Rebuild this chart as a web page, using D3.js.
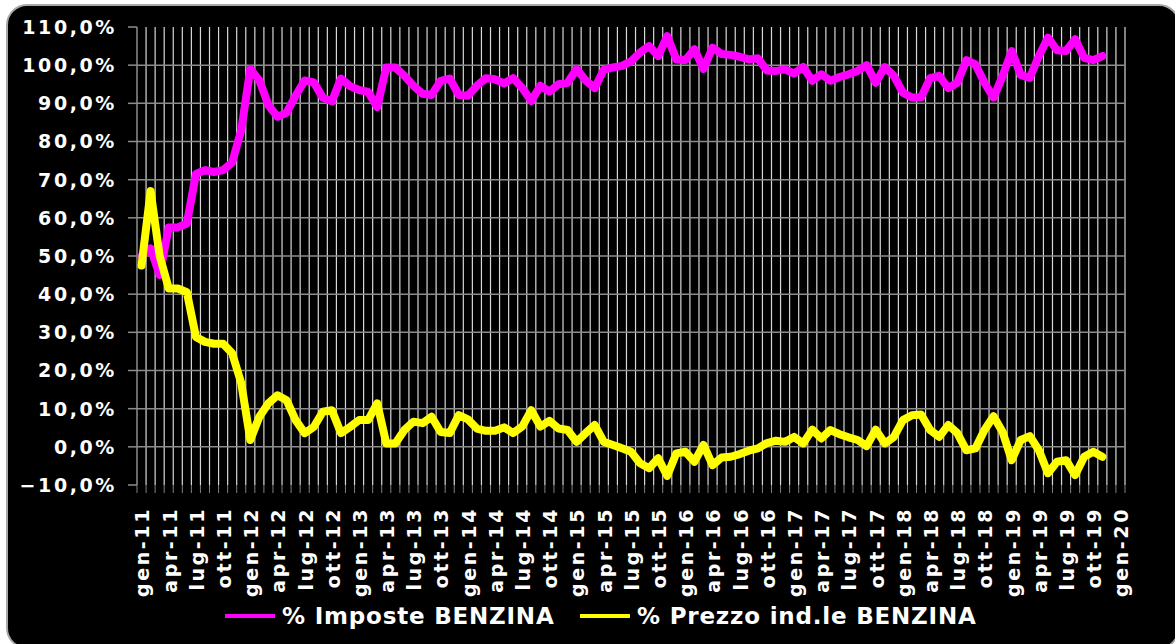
<!DOCTYPE html>
<html>
<head>
<meta charset="utf-8">
<script src="https://cdn.jsdelivr.net/npm/d3@7"></script>
<style>
  html, body { margin: 0; padding: 0; background: #fff; }
  svg { display: block; }
  text { font-family: "DejaVu Sans", Verdana, sans-serif; font-weight: bold; fill: #fff; }
</style>
</head>
<body>
<div id="chart"></div>
<script>
// categories: one per month, gen-11 .. gen-20
const monthNames = ['gen', 'feb', 'mar', 'apr', 'mag', 'giu', 'lug', 'ago', 'set', 'ott', 'nov', 'dic'];
const years = [11, 12, 13, 14, 15, 16, 17, 18, 19, 20];

// % Imposte BENZINA, gen-11 .. nov-19
const imposte = [
  50, 52, 45, 57.5, 57.5, 58.5, 71.5, 72.5, 72, 72.5, 74.5, 83,
  99, 96, 89.5, 86.5, 87.5, 92, 96, 95.5, 91.5, 90.5, 96.5, 94.5,
  93.5, 93, 89, 99.4, 99.4, 97.2, 94.6, 92.5, 92.2, 95.9, 96.5, 92.2,
  92, 94.6, 96.6, 96.3, 95.2, 96.6, 94, 90.6, 94.6, 93.1, 95, 95.4,
  99, 96, 94, 98.8, 99.4, 99.8, 101, 103.3, 105, 102.4, 107.6, 101.5,
  101.3, 104.2, 99, 104.6, 102.9, 102.7, 102.2, 101.5, 101.8, 98.6, 98.5, 98.9,
  97.8, 99.5, 95.9, 97.6, 95.9, 96.9, 97.6, 98.5, 100, 95.4, 99.5, 97.2,
  92.8, 91.5, 91.5, 96.6, 97.2, 94, 95.4, 101.3, 100.2, 95.4, 91.5, 97.2,
  103.7, 97.4, 96.7, 102.4, 107.2, 103.9, 103.7, 106.8, 101.9, 101.3, 102.4
];

// % Prezzo ind.le BENZINA, gen-11 .. nov-19
const prezzo = [
  47.5, 67, 50, 41.5, 41.5, 40.5, 28.8, 27.5, 27, 27, 24.5, 16.7,
  1.8, 7.9, 11.4, 13.5, 12.2, 7, 3.6, 5.2, 9.2, 9.6, 3.6, 5.2,
  7, 7, 11.4, 0.9, 0.9, 4.4, 6.6, 6.2, 7.9, 3.9, 3.6, 8.3,
  7.2, 4.8, 4.2, 4.2, 5.1, 3.6, 5.3, 9.6, 5.3, 6.8, 4.8, 4.4,
  1.3, 3.6, 5.7, 1.3, 0.5, -0.4, -1.3, -4.3, -5.6, -3, -7.6, -1.7,
  -1.3, -3.9, 0.5, -4.8, -2.8, -2.6, -1.9, -1, -0.4, 1, 1.6, 1.3,
  2.6, 0.9, 4.5, 2.2, 4.4, 3.3, 2.5, 1.8, 0.2, 4.5, 0.9, 2.6,
  7, 8.3, 8.5, 4.4, 2.6, 5.7, 3.6, -0.9, -0.4, 4.4, 8, 3.9,
  -3.5, 1.8, 2.8, -0.9, -6.9, -3.9, -3.5, -7.4, -2.6, -1.3, -2.6
];

const yTicks = [-10, 0, 10, 20, 30, 40, 50, 60, 70, 80, 90, 100, 110];
const seriesNames = ['% Imposte BENZINA', '% Prezzo ind.le BENZINA'];
const seriesColors = ['#ff00ff', '#ffff00'];

const categories = [];
years.forEach(function(y) {
  monthNames.forEach(function(m) {
    if (y < 20 || m === 'gen') categories.push(m + '-' + y);
  });
});
const tickLabels = categories.filter(function(d, i) { return i % 3 === 0; });

const width = 1175, height = 644;
const svg = d3.select('#chart').append('svg')
  .attr('width', width)
  .attr('height', height);

// rounded black frame
svg.append('rect')
  .attr('x', 7).attr('y', 5)
  .attr('width', 1172).attr('height', 643)
  .attr('rx', 20).attr('ry', 20)
  .attr('fill', '#000')
  .attr('stroke', '#a8a8a8')
  .attr('stroke-width', 2);

const x = d3.scaleBand()
  .domain(categories)
  .range([137, 1125])
  .padding(0);

const y = d3.scaleLinear()
  .domain([-10, 110])
  .range([485, 27]);

const xc = function(c) { return x(c) + x.bandwidth() / 2; };

// vertical gridlines at category boundaries
const bounds = categories.map(function(c) { return x(c); }).concat([1125]);
svg.append('g')
  .selectAll('line')
  .data(bounds.slice(1))
  .enter().append('line')
  .attr('x1', function(d) { return d; })
  .attr('x2', function(d) { return d; })
  .attr('y1', y(110))
  .attr('y2', y(-10))
  .attr('stroke', '#d8d8d8')
  .attr('stroke-width', 1.2);

// x tick marks
svg.append('g')
  .selectAll('line')
  .data(bounds)
  .enter().append('line')
  .attr('x1', function(d) { return d; })
  .attr('x2', function(d) { return d; })
  .attr('y1', y(-10))
  .attr('y2', y(-10) + 8)
  .attr('stroke', '#808080')
  .attr('stroke-width', 1);

// horizontal gridlines
svg.append('g')
  .selectAll('line')
  .data(yTicks.filter(function(d) { return d < 110 && d > -10; }))
  .enter().append('line')
  .attr('x1', 137)
  .attr('x2', 1125)
  .attr('y1', function(d) { return y(d); })
  .attr('y2', function(d) { return y(d); })
  .attr('stroke', '#8c8c8c')
  .attr('stroke-width', 1.5);

// y axis line + ticks
svg.append('line')
  .attr('x1', 137).attr('x2', 137)
  .attr('y1', y(110)).attr('y2', y(-10))
  .attr('stroke', '#8c8c8c').attr('stroke-width', 1.5);

svg.append('g')
  .selectAll('line')
  .data(yTicks)
  .enter().append('line')
  .attr('x1', 128).attr('x2', 137)
  .attr('y1', function(d) { return y(d); })
  .attr('y2', function(d) { return y(d); })
  .attr('stroke', '#8c8c8c')
  .attr('stroke-width', 1.5);

const pct = d3.format('.1f');
svg.append('g')
  .selectAll('text')
  .data(yTicks)
  .enter().append('text')
  .attr('x', 117)
  .attr('y', function(d) { return y(d); })
  .attr('dy', '0.36em')
  .attr('text-anchor', 'end')
  .style('font-size', '19px')
  .style('letter-spacing', '2.6px')
  .text(function(d) { return pct(d).replace('.', ',') + '%'; });

// x labels (rotated)
svg.append('g')
  .selectAll('text')
  .data(tickLabels)
  .enter().append('text')
  .attr('transform', function(d) { return 'translate(' + (xc(d) + 1) + ',507) rotate(-90)'; })
  .attr('dy', '0.36em')
  .attr('text-anchor', 'end')
  .style('font-size', '19px')
  .style('letter-spacing', '2.6px')
  .text(function(d) { return d; });

// lines
const line = function(vals) {
  return d3.line()
    .x(function(d, i) { return xc(categories[i]); })
    .y(function(d) { return y(d); })(vals);
};

[imposte, prezzo].forEach(function(vals, k) {
  svg.append('path')
    .attr('d', line(vals))
    .attr('fill', 'none')
    .attr('stroke', seriesColors[k])
    .attr('stroke-width', 8)
    .attr('stroke-linejoin', 'round')
    .attr('stroke-linecap', 'round');
});

// legend
const legendX = [225, 580];
seriesNames.forEach(function(name, k) {
  svg.append('line')
    .attr('x1', legendX[k]).attr('x2', legendX[k] + 50)
    .attr('y1', 616).attr('y2', 616)
    .attr('stroke', seriesColors[k])
    .attr('stroke-width', 4);
  svg.append('text')
    .attr('x', legendX[k] + 57)
    .attr('y', 616)
    .attr('dy', '0.36em')
    .style('font-size', '23px')
    .style('letter-spacing', '0.8px')
    .text(name);
});
</script>
</body>
</html>
